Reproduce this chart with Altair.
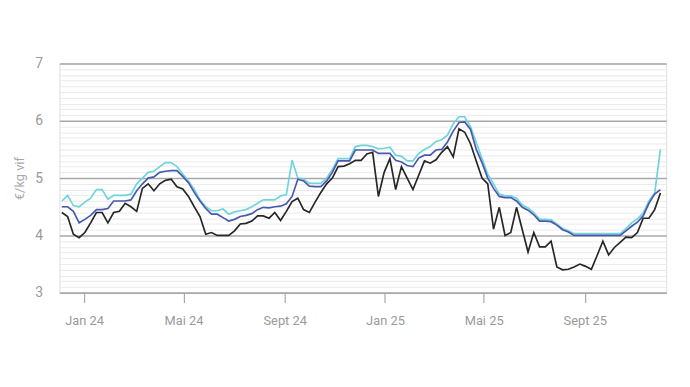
import altair as alt
import pandas as pd

# weekly quotations, first week 5 Dec 2023
start_date = "2023-12-05"
n_weeks = 105

cyan = [4.6, 4.7, 4.52, 4.5, 4.58, 4.65, 4.8, 4.8, 4.63, 4.7,
        4.7, 4.7, 4.72, 4.9, 5.0, 5.1, 5.12, 5.2, 5.27, 5.27,
        5.2, 5.07, 4.95, 4.8, 4.62, 4.5, 4.43, 4.43, 4.46, 4.37,
        4.41, 4.43, 4.45, 4.5, 4.56, 4.62, 4.62, 4.62, 4.69, 4.71,
        5.31, 5.0, 4.98, 4.91, 4.91, 4.91, 5.0, 5.15, 5.34, 5.34,
        5.34, 5.55, 5.57, 5.57, 5.55, 5.51, 5.52, 5.54, 5.4, 5.38,
        5.3, 5.3, 5.43, 5.5, 5.55, 5.64, 5.67, 5.75, 5.95, 6.07,
        6.07, 5.9, 5.62, 5.34, 5.07, 4.9, 4.72, 4.69, 4.69, 4.65,
        4.53, 4.48, 4.4, 4.28, 4.28, 4.27, 4.2, 4.12, 4.08, 4.03,
        4.03, 4.03, 4.03, 4.03, 4.03, 4.03, 4.03, 4.03, 4.12, 4.22,
        4.29, 4.39, 4.6, 4.74, 5.5]

blue = [4.5, 4.5, 4.42, 4.22, 4.28, 4.35, 4.45, 4.45, 4.47, 4.6,
        4.6, 4.6, 4.62, 4.78, 4.9, 5.0, 5.02, 5.1, 5.12, 5.13,
        5.13, 5.03, 4.92, 4.75, 4.6, 4.47, 4.37, 4.37, 4.31, 4.25,
        4.28, 4.33, 4.35, 4.38, 4.45, 4.49, 4.48, 4.5, 4.51, 4.55,
        4.68, 4.98, 4.95, 4.86, 4.85, 4.85, 4.95, 5.1, 5.3, 5.3,
        5.3, 5.49, 5.49, 5.49, 5.49, 5.43, 5.43, 5.43, 5.31, 5.28,
        5.22, 5.2, 5.35, 5.4, 5.4, 5.49, 5.5, 5.63, 5.82, 5.97,
        5.98, 5.85, 5.5, 5.27, 5.0, 4.82, 4.68, 4.66, 4.66, 4.6,
        4.49, 4.44, 4.36, 4.25, 4.25, 4.24, 4.18, 4.1, 4.06, 4.0,
        4.0, 4.0, 4.0, 4.0, 4.0, 4.0, 4.0, 4.0, 4.08, 4.16,
        4.23, 4.34, 4.56, 4.72, 4.8]

black = [4.4, 4.33, 4.02, 3.96, 4.05, 4.22, 4.4, 4.4, 4.22, 4.4,
         4.42, 4.56, 4.5, 4.42, 4.82, 4.9, 4.78, 4.9, 4.96, 4.98,
         4.85, 4.81, 4.68, 4.5, 4.33, 4.02, 4.05, 4.0, 4.0, 4.0,
         4.08, 4.2, 4.21, 4.25, 4.34, 4.34, 4.3, 4.4, 4.26, 4.42,
         4.59, 4.65, 4.45, 4.4, 4.58, 4.75, 4.9, 5.0, 5.2, 5.21,
         5.25, 5.31, 5.31, 5.42, 5.45, 4.68, 5.1, 5.34, 4.8, 5.2,
         5.0, 4.8, 5.05, 5.3, 5.26, 5.32, 5.45, 5.55, 5.37, 5.86,
         5.8, 5.6, 5.3, 5.0, 4.9, 4.11, 4.49, 4.0, 4.05, 4.49,
         4.1, 3.71, 4.05, 3.8, 3.8, 3.9, 3.45, 3.4, 3.41, 3.45,
         3.5, 3.46, 3.41, 3.65, 3.9, 3.66, 3.79, 3.88, 3.97, 3.96,
         4.05, 4.3, 4.3, 4.45, 4.74]

series_names = ["Série 1", "Série 2", "Série 3"]
series_colors = ["#6fd4dc", "#4759ad", "#262626"]

x_tick_dates = ["2024-01-01", "2024-05-01", "2024-09-01",
                "2025-01-01", "2025-05-01", "2025-09-01"]
y_ticks = [round(3 + 0.1 * i, 1) for i in range(41)]

dates = pd.date_range(start_date, periods=n_weeks, freq="7D")
df = pd.DataFrame({"date": dates.strftime("%Y-%m-%d"),
                   series_names[0]: cyan,
                   series_names[1]: blue,
                   series_names[2]: black})
long = df.melt(id_vars="date", var_name="serie", value_name="prix")

major = "abs(datum.value - round(datum.value)) < 0.01"

def dt(s):
    y, m, d = [int(p) for p in s.split("-")]
    return alt.DateTime(year=y, month=m, date=d)

x_enc = alt.X(
    "date:T",
    scale=alt.Scale(domain=[dt("2023-12-02"), dt("2025-12-09")]),
    axis=alt.Axis(
        values=[dt(s) for s in x_tick_dates],
        labelExpr="['Jan','Fév','Mars','Avr','Mai','Juin','Juil','Août','Sept','Oct','Nov','Déc'][month(datum.value)] + ' ' + timeFormat(datum.value, '%y')",
        grid=False, title=None,
        domainColor="#a8a8a8", domainWidth=1.5,
        tickColor="#a8a8a8", tickSize=10, tickWidth=1.2,
        labelPadding=12, labelFontSize=13, labelColor="#9a9a9a",
        labelFont="Roboto",
    ),
)

y_enc = alt.Y(
    "prix:Q",
    scale=alt.Scale(domain=[3, 7], nice=False, zero=False),
    axis=alt.Axis(
        values=y_ticks,
        labelExpr=f"{major} ? format(datum.value, 'd') : ''",
        labelOverlap=False,
        ticks=False, domain=False,
        gridColor={"condition": {"test": major, "value": "#a8a8a8"}, "value": "#eaeaea"},
        gridWidth={"condition": {"test": major, "value": 1.5}, "value": 1},
        labelPadding=17, labelFontSize=14, labelColor="#9a9a9a", labelFont="Roboto",
        title="€/kg vif", titleColor="#a8a8a8", titleFontSize=13,
        titleFontWeight="normal", titleFont="Roboto", titlePadding=8,
    ),
)

layers = []
for name, col in zip(series_names, series_colors):
    layers.append(
        alt.Chart(long)
        .transform_filter(alt.datum.serie == name)
        .mark_line(color=col, strokeWidth=1.7)
        .encode(x=x_enc, y=y_enc)
    )

chart = (
    alt.layer(*layers)
    .properties(
        width=614, height=232,
        autosize=alt.AutoSizeParams(type="none"),
        padding={"left": 52, "top": 54, "right": 16, "bottom": 70},
    )
    .configure_view(stroke=None)
    .configure(background="white")
)

chart.save("out.html", embed_options={"renderer": "svg", "actions": False})
